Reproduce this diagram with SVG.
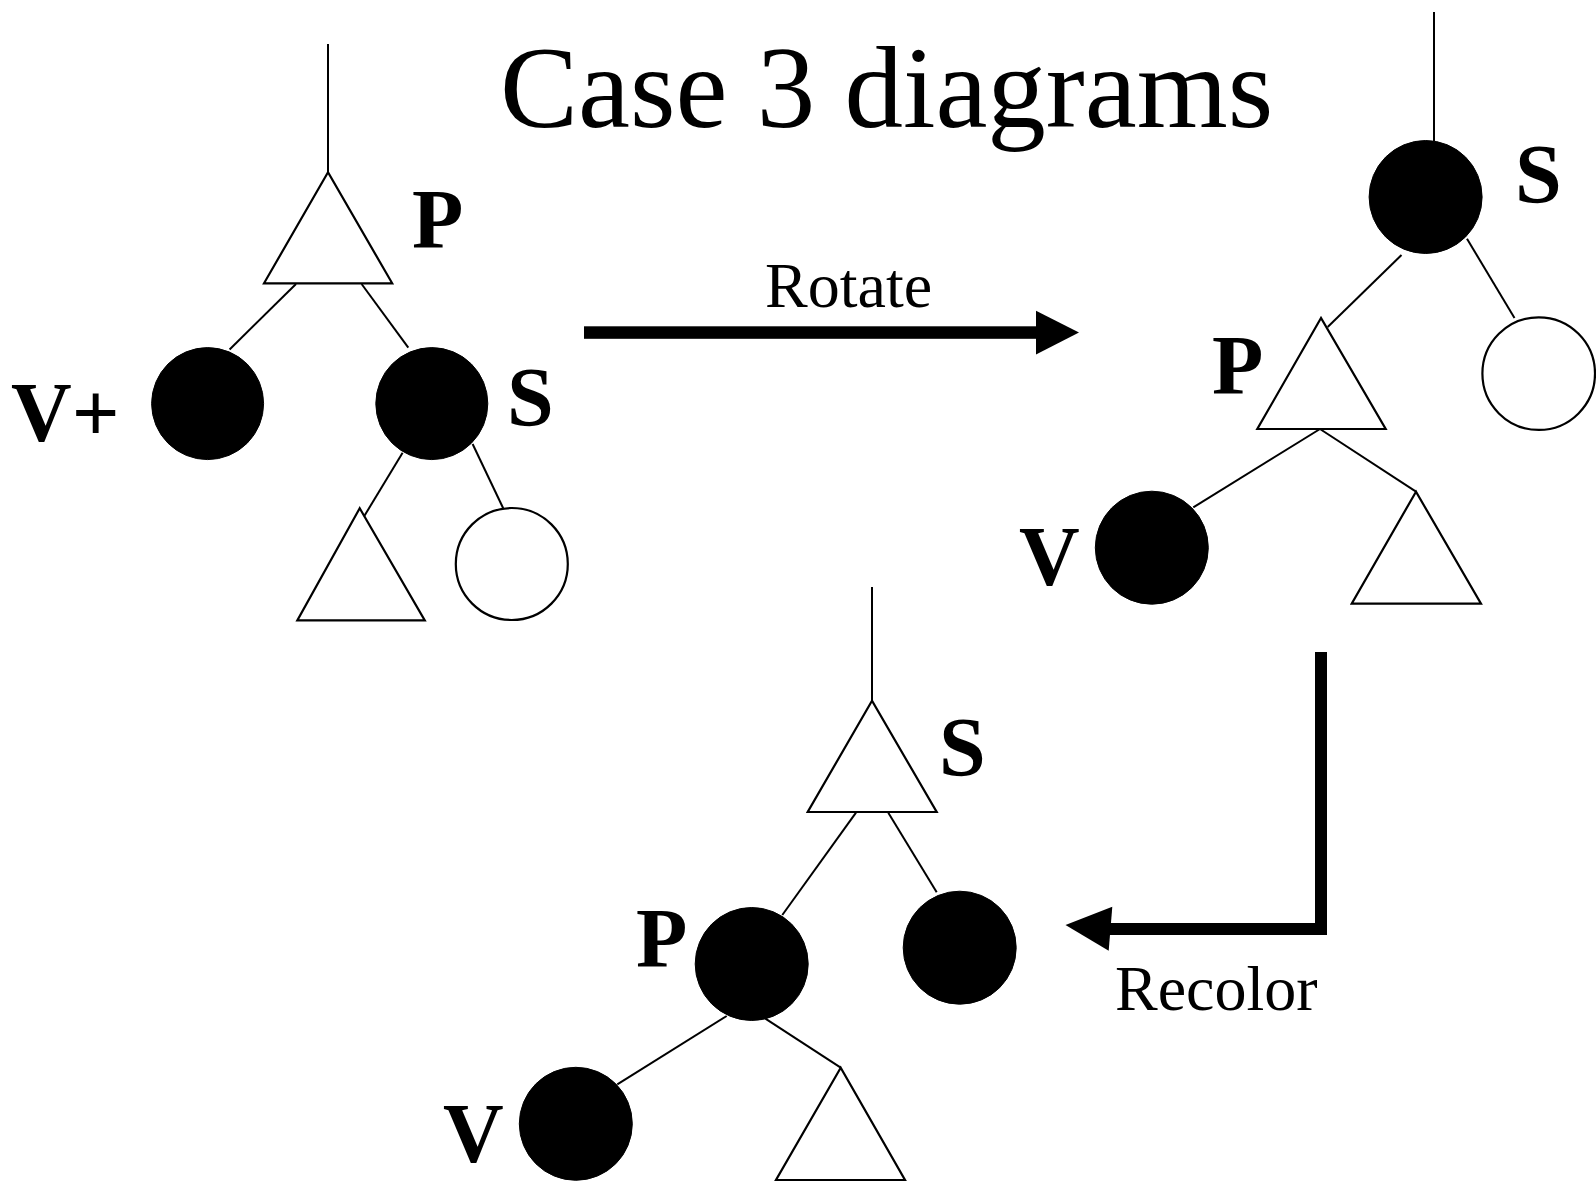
<svg xmlns="http://www.w3.org/2000/svg" width="1596" height="1193" viewBox="0 0 1596 1193">
<style>
.e{stroke:#000;stroke-width:2;fill:none}
.t{fill:#fff;stroke:#000;stroke-width:2.2}
.b{fill:#000;stroke:#000;stroke-width:1}
.w{fill:#fff;stroke:#000;stroke-width:2.2}
.lb{font-family:"Liberation Serif","Times New Roman",serif;font-weight:bold;font-size:84px;fill:#000}
.ac{font-family:"Liberation Serif","Times New Roman",serif;font-size:64px;fill:#000}
.ti{font-family:"Liberation Serif","Times New Roman",serif;font-size:117px;fill:#000}
</style>
<rect width="1596" height="1193" fill="#fff"/>
<text class="ti" x="500" y="127">Case 3 diagrams</text>
<g id="connectors">
  <line class="e" x1="328" y1="44" x2="328" y2="172"/>
  <line class="e" x1="296" y1="284" x2="229.6" y2="349.5"/>
  <line class="e" x1="361.6" y1="284" x2="408.3" y2="347.6"/>
  <line class="e" x1="402.6" y1="452.8" x2="364.3" y2="516"/>
  <line class="e" x1="472.6" y1="444" x2="503.2" y2="508.3"/>
  <line class="e" x1="1434" y1="12" x2="1434" y2="141"/>
  <line class="e" x1="1401.5" y1="255" x2="1327.7" y2="327"/>
  <line class="e" x1="1467" y1="238.8" x2="1514.5" y2="318"/>
  <line class="e" x1="1320" y1="429" x2="1193.3" y2="507.3"/>
  <line class="e" x1="1320" y1="429" x2="1416" y2="491.7"/>
  <line class="e" x1="872" y1="587" x2="872" y2="715"/>
  <line class="e" x1="856" y1="812.7" x2="782.3" y2="915"/>
  <line class="e" x1="888.3" y1="812.7" x2="936.7" y2="892.3"/>
  <line class="e" x1="726.7" y1="1016" x2="617.3" y2="1084.3"/>
  <line class="e" x1="765" y1="1018.3" x2="840.7" y2="1067.7"/>
  <g id="rotate-arrow">
    <rect x="584" y="326.3" width="454" height="12.5" fill="#000"/>
    <polygon points="1036,310.8 1079,332.5 1036,354.5" fill="#000"/>
    <text class="ac" x="765" y="306.5">Rotate</text>
  </g>
  <g id="recolor-arrow">
    <polyline points="1321,652 1321,929 1110,929" fill="none" stroke="#000" stroke-width="12"/>
    <polygon points="1112.3,906.7 1065.5,925 1108.7,950.7" fill="#000"/>
    <text class="ac" x="1115" y="1010">Recolor</text>
  </g>
</g>
<g id="left-P"><polygon class="t" points="328,172.3 264,283.3 392.2,283.3"/><text class="lb" x="412" y="248">P</text></g>
<g id="left-V"><circle class="b" cx="207.6" cy="403.6" r="56"/><text class="lb" x="11" y="441.4">V+</text></g>
<g id="left-S"><circle class="b" cx="431.8" cy="403.6" r="56"/><text class="lb" x="507" y="426">S</text></g>
<g id="left-tri"><polygon class="t" points="359.7,508.3 297.3,620.4 424.8,620.4"/></g>
<g id="left-red"><circle class="w" cx="511.8" cy="564" r="56"/></g>
<g id="right-S"><circle class="b" cx="1425.6" cy="197" r="56.5"/><text class="lb" x="1515" y="203">S</text></g>
<g id="right-P"><polygon class="t" points="1321,318 1257.3,429 1385.7,429"/><text class="lb" x="1212" y="394">P</text></g>
<g id="right-red"><circle class="w" cx="1538.7" cy="373.6" r="56.3"/></g>
<g id="right-V"><circle class="b" cx="1151.8" cy="547.7" r="56.5"/><text class="lb" x="1019" y="585">V</text></g>
<g id="right-tri"><polygon class="t" points="1416,491.7 1351.7,603.7 1481,603.7"/></g>
<g id="bottom-S"><polygon class="t" points="872,700.7 807.7,812 936.7,812"/><text class="lb" x="939" y="776">S</text></g>
<g id="bottom-P"><circle class="b" cx="751.7" cy="964" r="56.5"/><text class="lb" x="636" y="967.3">P</text></g>
<g id="bottom-R"><circle class="b" cx="959.7" cy="947.7" r="56.5"/></g>
<g id="bottom-V"><circle class="b" cx="575.8" cy="1123.8" r="56.5"/><text class="lb" x="443" y="1161.7">V</text></g>
<g id="bottom-tri"><polygon class="t" points="840.7,1067.7 776,1180 905,1180"/></g>
</svg>
